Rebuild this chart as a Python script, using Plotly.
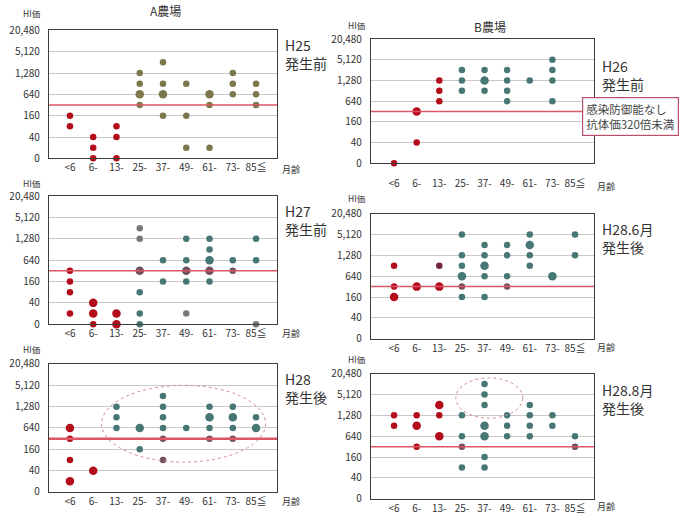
import plotly.graph_objects as go

W, H = 695, 531

AGES = ["<6", "6-", "13-", "25-", "37-", "49-", "61-", "73-", "85≦"]
TITER_LEVELS = [0, 2, 4, 6, 8, 10, 12]
TITER_LABELS = ["0", "40", "160", "640", "1,280", "5,120", "20,480"]
THRESHOLD_LEVEL = 5  # 320倍

# (age group, titer level, colour group, number of animals)
A_H25 = [
    ("<6", 4, "calf", 1), ("<6", 3, "calf", 1),
    ("6-", 2, "calf", 1), ("6-", 1, "calf", 1), ("6-", 0, "calf", 1),
    ("13-", 3, "calf", 1), ("13-", 2, "calf", 1), ("13-", 0, "calf", 1),
    ("25-", 8, "olive", 1), ("25-", 7, "olive", 1), ("25-", 6, "olive", 2), ("25-", 5, "olive", 1),
    ("37-", 9, "olive", 1), ("37-", 7, "olive", 1), ("37-", 6, "olive", 2), ("37-", 4, "olive", 1),
    ("49-", 7, "olive", 1), ("49-", 4, "olive", 1), ("49-", 1, "olive", 1),
    ("61-", 6, "olive", 2), ("61-", 5, "olive", 1), ("61-", 1, "olive", 1),
    ("73-", 8, "olive", 1), ("73-", 7, "olive", 1), ("73-", 6, "olive", 1),
    ("85≦", 7, "olive", 1), ("85≦", 6, "olive", 1), ("85≦", 5, "olive", 1),
]

B_H26 = [
    ("<6", 0, "calf", 1),
    ("6-", 5, "calf", 2), ("6-", 2, "calf", 1),
    ("13-", 8, "calf", 1), ("13-", 7, "calf", 1), ("13-", 6, "calf", 1),
    ("25-", 9, "teal", 1), ("25-", 8, "teal", 1), ("25-", 7, "teal", 1),
    ("37-", 9, "teal", 1), ("37-", 8, "teal", 2), ("37-", 7, "teal", 1),
    ("49-", 9, "teal", 1), ("49-", 8, "teal", 1), ("49-", 7, "teal", 1), ("49-", 6, "teal", 1),
    ("61-", 8, "teal", 1),
    ("73-", 10, "teal", 1), ("73-", 9, "teal", 1), ("73-", 8, "teal", 1), ("73-", 6, "teal", 1),
]

A_H27 = [
    ("<6", 5, "calf", 1), ("<6", 4, "calf", 1), ("<6", 3, "calf", 1), ("<6", 1, "calf", 1),
    ("6-", 2, "calf", 2), ("6-", 1, "calf", 2), ("6-", 0, "calf", 1),
    ("13-", 1, "calf", 2), ("13-", 0, "calf", 2),
    ("25-", 9, "gray", 1), ("25-", 8, "gray", 1), ("25-", 5, "low", 2),
    ("25-", 3, "teal", 1), ("25-", 1, "teal", 1), ("25-", 0, "teal", 1),
    ("37-", 6, "teal", 1), ("37-", 4, "teal", 1),
    ("49-", 8, "teal", 1), ("49-", 6, "teal", 1), ("49-", 5, "low", 2), ("49-", 4, "teal", 1), ("49-", 1, "gray", 1),
    ("61-", 8, "teal", 1), ("61-", 7, "teal", 1), ("61-", 6, "teal", 2), ("61-", 5, "low", 2), ("61-", 4, "teal", 1),
    ("73-", 6, "teal", 1), ("73-", 5, "low", 1),
    ("85≦", 8, "teal", 1), ("85≦", 6, "teal", 1), ("85≦", 0, "gray", 1),
]

B_H28_6 = [
    ("<6", 7, "calf", 1), ("<6", 5, "calf", 1), ("<6", 4, "calf", 2),
    ("6-", 5, "calf", 2),
    ("13-", 7, "calf_dark", 1), ("13-", 5, "calf", 2),
    ("25-", 10, "teal", 1), ("25-", 8, "teal", 1), ("25-", 7, "teal", 1), ("25-", 6, "teal", 2),
    ("25-", 5, "low", 1), ("25-", 4, "teal", 1),
    ("37-", 9, "teal", 1), ("37-", 8, "teal", 1), ("37-", 7, "teal", 2), ("37-", 6, "teal", 1), ("37-", 4, "teal", 1),
    ("49-", 9, "teal", 1), ("49-", 8, "teal", 1), ("49-", 6, "teal", 1), ("49-", 5, "low", 1),
    ("61-", 10, "teal", 1), ("61-", 9, "teal", 2), ("61-", 8, "teal", 1), ("61-", 7, "teal", 1),
    ("73-", 6, "teal", 2),
    ("85≦", 10, "teal", 1), ("85≦", 8, "teal", 1),
]

A_H28 = [
    ("<6", 6, "calf", 2), ("<6", 5, "calf", 1), ("<6", 3, "calf", 1), ("<6", 1, "calf", 2),
    ("6-", 2, "calf", 2),
    ("13-", 8, "teal", 1), ("13-", 7, "teal", 1), ("13-", 6, "teal", 1),
    ("25-", 6, "teal", 2), ("25-", 4, "teal", 1),
    ("37-", 9, "teal", 1), ("37-", 8, "teal", 1), ("37-", 7, "teal", 1), ("37-", 6, "teal", 1),
    ("37-", 5, "low", 1), ("37-", 3, "low", 1),
    ("49-", 6, "teal", 1),
    ("61-", 8, "teal", 1), ("61-", 7, "teal", 2), ("61-", 6, "teal", 1), ("61-", 5, "low", 1),
    ("73-", 8, "teal", 1), ("73-", 7, "teal", 2), ("73-", 6, "teal", 1), ("73-", 5, "low", 1),
    ("85≦", 7, "teal", 1), ("85≦", 6, "teal", 2),
]

B_H28_8 = [
    ("<6", 8, "calf", 1), ("<6", 7, "calf", 1),
    ("6-", 8, "calf", 1), ("6-", 7, "calf", 2), ("6-", 5, "calf", 1),
    ("13-", 9, "calf", 2), ("13-", 8, "calf", 1), ("13-", 6, "calf", 2),
    ("25-", 8, "teal", 1), ("25-", 6, "teal", 1), ("25-", 5, "low", 1), ("25-", 3, "teal", 1),
    ("37-", 11, "teal", 1), ("37-", 10, "teal", 1), ("37-", 9, "teal", 1), ("37-", 7, "teal", 2),
    ("37-", 6, "teal", 2), ("37-", 4, "teal", 1), ("37-", 3, "teal", 1),
    ("49-", 8, "teal", 1), ("49-", 7, "teal", 1), ("49-", 6, "teal", 1),
    ("61-", 9, "teal", 1), ("61-", 8, "teal", 1), ("61-", 7, "teal", 1), ("61-", 6, "teal", 1),
    ("73-", 8, "teal", 1), ("73-", 7, "teal", 1),
    ("85≦", 6, "teal", 1), ("85≦", 5, "low", 1),
]

PANEL_LABELS = ["H25<br>発生前", "H26<br>発生前", "H27<br>発生前", "H28.6月<br>発生後", "H28<br>発生後", "H28.8月<br>発生後"]
FARM_TITLES = ["A農場", "B農場"]

COLORS = {
    "calf": "#b30d1b",
    "calf_dark": "#74253f",
    "olive": "#7c784c",
    "teal": "#467774",
    "gray": "#767a76",
    "low": "#70515c",
}

FONT = "Noto Sans CJK JP"

PANELS = [
    dict(data=A_H25, box=(49, 277, 22, 154), xr=(-0.9, 8.9), label_xy=(283, 25), hi_xy=(32, 4),
         unit_y=166, unit_x=291, standoff=0, red_w=1.5),
    dict(data=B_H26, box=(371, 594, 31, 159), xr=(-1.02, 8.84), label_xy=(600, 46), hi_xy=(357, 16),
         unit_y=183, unit_x=606, standoff=11, red_w=1.5),
    dict(data=A_H27, box=(49, 277, 193, 325), xr=(-0.9, 8.9), label_xy=(283, 196), hi_xy=(32, 179),
         unit_y=335, unit_x=291, standoff=0, red_w=1.5),
    dict(data=B_H28_6, box=(371, 594, 211, 340), xr=(-1.02, 8.84), label_xy=(600, 214), hi_xy=(357, 195),
         unit_y=349, unit_x=606, standoff=0, red_w=1.5),
    dict(data=A_H28, box=(49, 277, 366, 498), xr=(-0.9, 8.9), label_xy=(283, 369), hi_xy=(32, 351),
         unit_y=508, unit_x=291, standoff=0, red_w=2.5),
    dict(data=B_H28_8, box=(371, 594, 376, 505), xr=(-1.02, 8.84), label_xy=(600, 380), hi_xy=(357, 361),
         unit_y=513, unit_x=606, standoff=0, red_w=1.5),
]


def px_x(v):
    return v / W


def px_y(v):
    return 1 - v / H


fig = go.Figure()
shapes = []
annotations = []
layout_axes = {}

for i, p in enumerate(PANELS, start=1):
    xa = "x" if i == 1 else f"x{i}"
    ya = "y" if i == 1 else f"y{i}"
    groups = {}
    for age, lvl, grp, n in p["data"]:
        groups.setdefault(grp, []).append((AGES.index(age), lvl, n))
    for grp, pts in groups.items():
        fig.add_trace(go.Scatter(
            x=[q[0] for q in pts], y=[q[1] for q in pts],
            mode="markers", xaxis=xa, yaxis=ya,
            marker=dict(color=COLORS[grp], opacity=1,
                        size=[6.5 if q[2] == 1 else 8.5 for q in pts], line=dict(width=0)),
            cliponaxis=False, showlegend=False, hoverinfo="skip",
        ))
    l, r, t, b = p["box"]
    xkey = "xaxis" if i == 1 else f"xaxis{i}"
    ykey = "yaxis" if i == 1 else f"yaxis{i}"
    layout_axes[xkey] = dict(
        domain=[px_x(l), px_x(r)], range=list(p["xr"]), anchor=ya,
        tickvals=list(range(len(AGES))), ticktext=AGES, showgrid=False, zeroline=False,
        showline=True, mirror=True, linecolor="#3c3c3c", linewidth=1.2,
        ticks="", ticklabelstandoff=p["standoff"],
        tickfont=dict(family=FONT, size=10, color="#333333"), fixedrange=True,
    )
    layout_axes[ykey] = dict(
        domain=[px_y(b), px_y(t)], range=[0, 12], anchor=xa,
        tickvals=TITER_LEVELS, ticktext=TITER_LABELS, showgrid=True, gridcolor="#c9c9c9", gridwidth=1,
        zeroline=False, showline=True, mirror=True, linecolor="#3c3c3c", linewidth=1.2,
        ticks="", ticklabelstandoff=6,
        tickfont=dict(family=FONT, size=10, color="#333333"), fixedrange=True,
    )
    shapes.append(dict(type="line", xref=f"{xa} domain", yref=ya, x0=0, x1=1,
                       y0=THRESHOLD_LEVEL, y1=THRESHOLD_LEVEL,
                       line=dict(color="#dc5663", width=p["red_w"]), layer="above"))
    lx, ly = p["label_xy"]
    annotations.append(dict(text=PANEL_LABELS[i - 1], xref="paper", yref="paper", x=px_x(lx), y=px_y(ly),
                            xanchor="left", yanchor="top", align="left", showarrow=False,
                            font=dict(family=FONT, size=14, color="#333333")))
    hx, hy = p["hi_xy"]
    annotations.append(dict(text="HI価", xref="paper", yref="paper", x=px_x(hx), y=px_y(hy),
                            xanchor="center", yanchor="middle", showarrow=False,
                            font=dict(family=FONT, size=8.5, color="#333333")))
    annotations.append(dict(text="月齢", xref="paper", yref="paper", x=px_x(p["unit_x"]), y=px_y(p["unit_y"]),
                            xanchor="center", yanchor="middle", showarrow=False,
                            font=dict(family=FONT, size=9, color="#333333")))

annotations.append(dict(text=FARM_TITLES[0], xref="paper", yref="paper", x=px_x(165), y=px_y(2),
                        xanchor="center", yanchor="middle", showarrow=False,
                        font=dict(family=FONT, size=12, color="#333333")))
annotations.append(dict(text=FARM_TITLES[1], xref="paper", yref="paper", x=px_x(490), y=px_y(18),
                        xanchor="center", yanchor="middle", showarrow=False,
                        font=dict(family=FONT, size=12, color="#333333")))

annotations.append(dict(text="感染防御能なし<br>抗体価320倍未満", xref="paper", yref="paper",
                        x=px_x(582), y=px_y(91), xanchor="left", yanchor="top", align="left",
                        showarrow=False, bgcolor="white", bordercolor="#b8506a", borderwidth=1.2,
                        borderpad=3, font=dict(family=FONT, size=11.5, color="#444444")))

shapes.append(dict(type="circle", xref="x5", yref="y5", x0=1.36, x1=8.41, y0=2.8, y1=10.0,
                   line=dict(color="#d08a92", width=1, dash="dot")))
shapes.append(dict(type="circle", xref="x6", yref="y6", x0=2.73, x1=5.69, y0=7.73, y1=11.6,
                   line=dict(color="#d08a92", width=1, dash="dot")))

fig.update_layout(
    width=W, height=H, margin=dict(l=0, r=0, t=0, b=0),
    paper_bgcolor="white", plot_bgcolor="white",
    shapes=shapes, annotations=annotations, showlegend=False,
    font=dict(family=FONT),
    **layout_axes,
)

fig.write_html("out.html")
